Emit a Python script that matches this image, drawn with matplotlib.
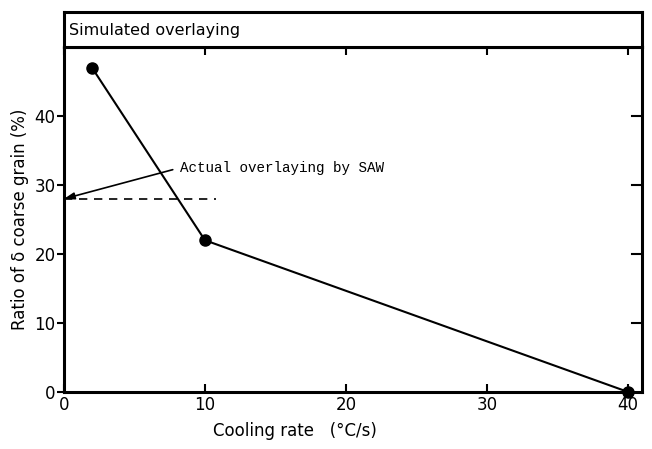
import matplotlib.pyplot as plt

cooling_rate = [2, 10, 40]
coarse_ratio = [47, 22, 0]
saw_level = 28
saw_x_end = 10.8
x_ticks = [0, 10, 20, 30, 40]
y_ticks = [0, 10, 20, 30, 40]

fig = plt.figure(figsize=(6.52, 4.49), dpi=100)
ax = fig.add_axes([0.098, 0.127, 0.887, 0.768])
tax = fig.add_axes([0.098, 0.895, 0.887, 0.078])

# main plot
ax.plot(cooling_rate, coarse_ratio, color='black', lw=1.5, marker='o', ms=8,
        clip_on=False, zorder=3)
ax.plot([0, saw_x_end], [saw_level, saw_level], color='black', lw=1.2,
        ls=(0, (5, 4)))
ax.annotate('Actual overlaying by SAW', xy=(0, saw_level), xytext=(8.2, 32.5),
            fontsize=10.3, family='Liberation Mono', va='center',
            arrowprops=dict(arrowstyle='-|>,head_length=0.6,head_width=0.2',
                            color='black', lw=1.2, relpos=(0, 0.5),
                            shrinkA=3, shrinkB=0))

ax.set_xlim(0, 41)
ax.set_ylim(0, 50)
ax.set_xticks(x_ticks)
ax.set_yticks(y_ticks)
ax.tick_params(axis='both', labelsize=12, width=1.5, length=6)
ax.tick_params(axis='x', direction='in', top=True, pad=3)
ax.tick_params(axis='y', direction='out', right=False, pad=1, length=5)
for y in y_ticks[1:]:
    ax.plot([41, 40.25], [y, y], color='black', lw=1.5, clip_on=False)
for s in ax.spines.values():
    s.set_linewidth(2.2)
ax.set_xlabel('Cooling rate   (°C/s)', fontsize=12, labelpad=6, x=0.40)
ax.set_ylabel('Ratio of δ coarse grain (%)', fontsize=12, labelpad=4)

# title band
tax.set_xticks([])
tax.set_yticks([])
for s in tax.spines.values():
    s.set_linewidth(2.2)
tax.text(0.008, 0.48, 'Simulated overlaying', fontsize=11.5, va='center',
         transform=tax.transAxes)

fig.savefig('out.png', dpi=100)
